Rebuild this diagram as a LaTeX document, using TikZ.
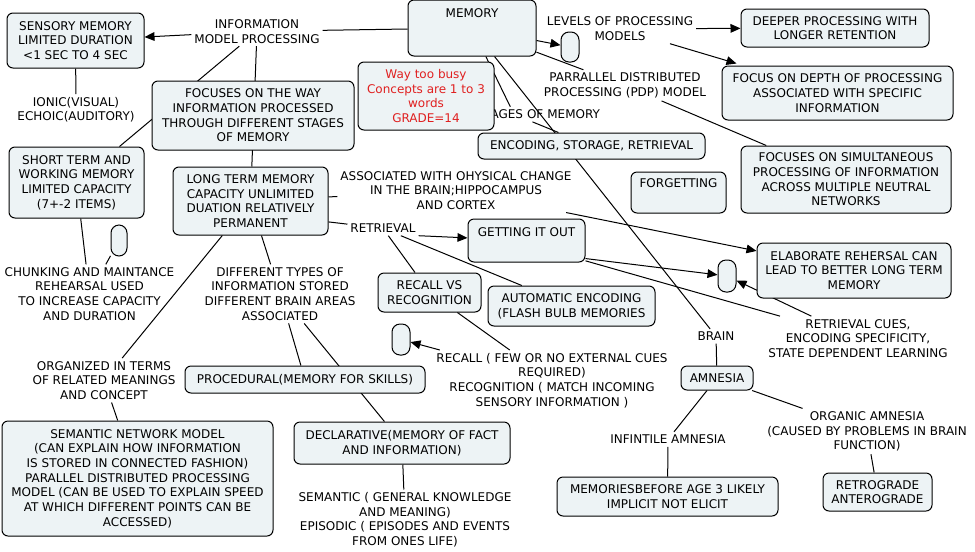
\documentclass[tikz,border=0pt]{standalone}
\usepackage{fontspec}
\setmainfont{DejaVu Sans}
\usetikzlibrary{arrows.meta,calc}
\definecolor{boxfill}{RGB}{237,243,245}
\definecolor{busyred}{RGB}{224,32,32}
\pgfdeclarelayer{paper}
\pgfdeclarelayer{edges}
\pgfsetlayers{paper,edges,main}
\begin{document}
\begin{tikzpicture}[x=0.75pt,y=-0.75pt,
  font=\fontsize{9pt}{11pt}\selectfont,
  box/.style={draw=black, fill=boxfill, line width=0.75pt, rounded corners=4.5pt, inner sep=0pt, align=center},
  pill/.style={box, rounded corners=6pt},
  wh/.style 2 args={minimum width=#1*0.75pt, minimum height=#2*0.75pt},
  lbl/.style={inner sep=0pt, outer sep=2.25pt, align=center, yshift=-1pt},
  conn/.style={draw=black, line width=0.75pt},
  arr/.style={conn, -{Triangle[length=7.5pt,width=6.5pt]}},
]
\begin{pgfonlayer}{paper}
\fill[white] (0,0) rectangle (975,551);
\end{pgfonlayer}
\useasboundingbox (0,0) rectangle (975,551);

% nodes
\node[box, wh={128}{56}, label={[lbl,anchor=center,yshift=-9.5pt]north:MEMORY}] (memory) at (472,28) {};
\node[box, wh={137}{55}] (sensory) at (75.5,40.5) {SENSORY MEMORY\\LIMITED DURATION\\<1 SEC TO 4 SEC};
\node[lbl] (info) at (257,30) {INFORMATION\\MODEL PROCESSING};
\node[box, wh={202}{69}] (focuses) at (253,115.5) {FOCUSES ON THE WAY\\INFORMATION PROCESSED\\THROUGH DIFFERENT STAGES\\OF MEMORY};
\node[lbl, text width=129pt, align=right] (stages) at (514,113) {STAGES OF MEMORY};
\node[box, wh={136}{68}, text=busyred] (busy) at (426,96) {Way too busy\\Concepts are 1 to 3\\words\\GRADE=14};
\node[lbl] (ionic) at (76,108.5) {IONIC(VISUAL)\\ECHOIC(AUDITORY)};
\node[box, wh={135}{71}] (short) at (76.5,182.5) {SHORT TERM AND\\WORKING MEMORY\\LIMITED CAPACITY\\(7+-2 ITEMS)};
\node[box, wh={155}{68}] (longterm) at (250.5,201) {LONG TERM MEMORY\\CAPACITY UNLIMITED\\DUATION RELATIVELY\\PERMANENT};
\node[lbl] (assoc) at (456,189) {ASSOCIATED WITH OHYSICAL CHANGE\\IN THE BRAIN;HIPPOCAMPUS\\AND CORTEX};
\node[lbl] (retrieval) at (383,227) {RETRIEVAL};
\node[box, wh={117}{43}, label={[lbl,anchor=center,yshift=-9.5pt]north:GETTING IT OUT}] (getting) at (526.5,240.5) {};
\node[pill, wh={16}{31}] (pillA) at (119,240.5) {};
\node[lbl] (chunk) at (89.5,292.5) {CHUNKING AND MAINTANCE\\REHEARSAL USED\\TO INCREASE CAPACITY\\AND DURATION};
\node[lbl] (different) at (280,292.5) {DIFFERENT TYPES OF\\INFORMATION STORED\\DIFFERENT BRAIN AREAS\\ASSOCIATED};
\node[box, wh={103}{39}] (recallvs) at (429.5,292.5) {RECALL VS\\RECOGNITION};
\node[box, wh={167}{40}] (auto) at (571.5,306) {AUTOMATIC ENCODING\\(FLASH BULB MEMORIES};
\node[pill, wh={18}{31}] (pillB) at (401,339.5) {};
\node[lbl] (recall) at (552,379) {RECALL ( FEW OR NO EXTERNAL CUES\\REQUIRED)\\RECOGNITION ( MATCH INCOMING\\SENSORY INFORMATION )};
\node[box, wh={240}{27}] (procedural) at (305,379.5) {PROCEDURAL(MEMORY FOR SKILLS)};
\node[lbl] (organized) at (104,379) {ORGANIZED IN TERMS\\OF RELATED MEANINGS\\AND CONCEPT};
\node[box, wh={271}{115}] (semnet) at (137.5,478.5) {SEMANTIC NETWORK MODEL\\(CAN EXPLAIN HOW INFORMATION\\IS STORED IN CONNECTED FASHION)\\PARALLEL DISTRIBUTED PROCESSING\\MODEL (CAN BE USED TO EXPLAIN SPEED\\AT WHICH DIFFERENT POINTS CAN BE\\ACCESSED)};
\node[box, wh={216}{42}] (declarative) at (402,443) {DECLARATIVE(MEMORY OF FACT\\AND INFORMATION)};
\node[lbl] (semantic) at (405,518.5) {SEMANTIC ( GENERAL KNOWLEDGE\\AND MEANING)\\EPISODIC ( EPISODES AND EVENTS\\FROM ONES LIFE)};
\node[lbl] (brain) at (716,335) {BRAIN};
\node[box, wh={72}{24}] (amnesia) at (717,378) {AMNESIA};
\node[lbl] (infintile) at (668,438) {INFINTILE AMNESIA};
\node[lbl] (organic) at (867,430) {ORGANIC AMNESIA\\(CAUSED BY PROBLEMS IN BRAIN\\FUNCTION)};
\node[box, wh={221}{39}] (memories) at (667.5,496.5) {MEMORIESBEFORE AGE 3 LIKELY\\IMPLICIT NOT ELICIT};
\node[box, wh={109}{38}] (retrograde) at (877.5,492) {RETROGRADE\\ANTEROGRADE};
\node[lbl] (levels) at (620,27.5) {LEVELS OF PROCESSING\\MODELS};
\node[pill, wh={18}{30}] (pillT) at (570,47) {};
\node[box, wh={188}{38}] (deeper) at (835,28) {DEEPER PROCESSING WITH\\LONGER RETENTION};
\node[box, wh={231}{54}] (depth) at (837.5,93) {FOCUS ON DEPTH OF PROCESSING\\ASSOCIATED WITH SPECIFIC\\INFORMATION};
\node[lbl] (parallel) at (625,84) {PARRALLEL DISTRIBUTED\\PROCESSING (PDP) MODEL};
\node[box, wh={227}{26}] (encoding) at (591.5,146) {ENCODING, STORAGE, RETRIEVAL};
\node[box, wh={95}{41}, label={[lbl,anchor=center,yshift=-8pt]north:FORGETTING}] (forgetting) at (678.5,192.5) {};
\node[box, wh={210}{67}] (focussim) at (846,179.5) {FOCUSES ON SIMULTANEOUS\\PROCESSING OF INFORMATION\\ACROSS MULTIPLE NEUTRAL\\NETWORKS};
\node[box, wh={194}{55}] (elaborate) at (854,270.5) {ELABORATE REHERSAL CAN\\LEAD TO BETTER LONG TERM\\MEMORY};
\node[pill, wh={18}{32}] (pillC) at (727,276) {};
\node[lbl] (retcues) at (858,337) {RETRIEVAL CUES,\\ENCODING SPECIFICITY,\\STATE DEPENDENT LEARNING};

% connectors
\begin{pgfonlayer}{edges}
\draw[conn] (memory) -- (info);
\draw[arr] (info) -- (sensory);
\draw[conn] (info) -- (short);
\draw[conn] (info) -- (longterm);
\draw[conn] (sensory) -- (ionic);
\draw[conn] (short) -- (chunk);
\draw[conn] (pillA) -- (chunk);
\draw[conn] (longterm) -- (assoc);
\draw[conn] (longterm.-15) -- (retrieval);
\draw[arr] (retrieval.south east) -- (getting);
\draw[conn] (retrieval) -- (recallvs);
\draw[conn] (retrieval) -- (auto);
\draw[arr] (assoc) -- (elaborate);
\draw[arr] (getting.-17) -- (pillC);
\draw[conn] (getting.-19) -- (retcues);
\draw[arr] (retcues) -- (pillC);
\draw[arr] (memory) -- (pillT);
\draw[arr] (levels) -- (deeper);
\draw[arr] (levels) -- ($(depth.north west)+(15,-2)$);
\draw[conn] (memory) -- (parallel);
\draw[conn] (parallel) -- (focussim);
\draw[conn] (memory) -- (stages);
\draw[conn] (stages) -- (encoding);
\draw[conn] (memory) -- (brain);
\draw[conn] (brain) -- (amnesia);
\draw[conn] (amnesia) -- (infintile);
\draw[conn] (infintile) -- (memories);
\draw[conn] (amnesia) -- (organic);
\draw[conn] (organic) -- (retrograde);
\draw[conn] (longterm) -- (organized);
\draw[conn] (longterm) -- (different);
\draw[conn] (different) -- (procedural);
\draw[conn] (different) -- (declarative);
\draw[conn] (organized) -- (semnet);
\draw[conn] (declarative) -- (semantic);
\draw[conn] (recallvs) -- (recall);
\draw[arr] (recall) -- (pillB);
\end{pgfonlayer}
\end{tikzpicture}
\end{document}
